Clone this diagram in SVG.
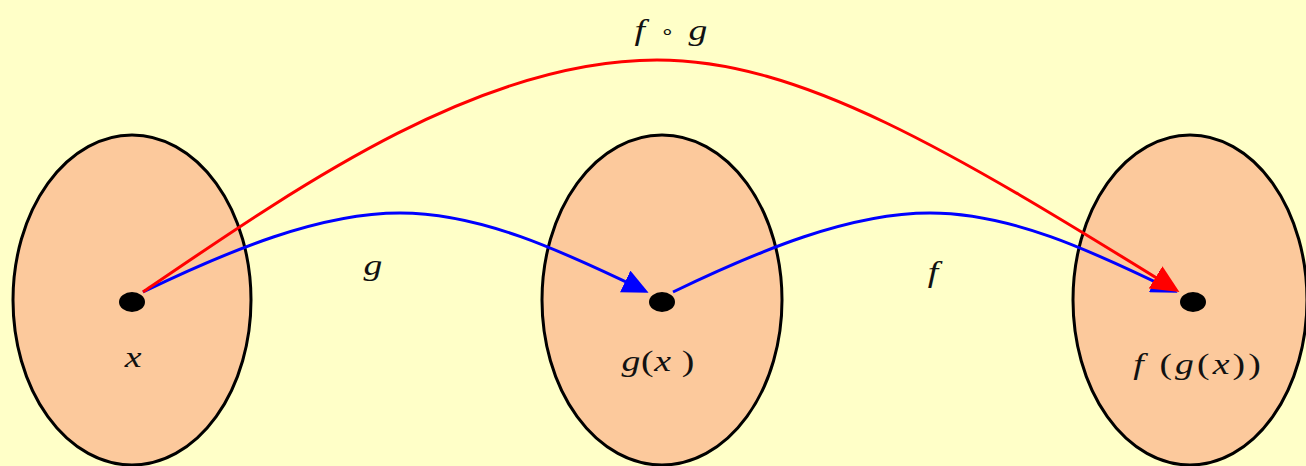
<svg xmlns="http://www.w3.org/2000/svg" width="1306" height="466" viewBox="0 0 1306 466">
<style>
.set{fill:#FCC99C;stroke:#000;stroke-width:3}
.dot{fill:#000}
.lbl{font-family:"Liberation Serif",serif;font-size:29px;font-style:italic;fill:#111;text-anchor:middle}
.up{font-style:normal}
.blue{fill:none;stroke:#0000FF;stroke-width:3}
.red{fill:none;stroke:#FF0000;stroke-width:3}
</style>
<defs>
<marker id="ab" markerUnits="userSpaceOnUse" markerWidth="26" markerHeight="24" refX="22" refY="12" orient="auto"><path d="M0,0 L26,12 L0,24 z" fill="#0000FF"/></marker>
<marker id="ar" markerUnits="userSpaceOnUse" markerWidth="28" markerHeight="26" refX="24" refY="13" orient="auto"><path d="M0,0 L28,13 L0,26 z" fill="#FF0000"/></marker>
</defs>
<rect width="1306" height="466" fill="#FFFFC8"/>
<g id="setX">
<ellipse class="set" cx="132" cy="300" rx="119" ry="165"/>
<ellipse class="dot" cx="132" cy="302" rx="13" ry="10"/>
<text class="lbl" transform="matrix(1.3 0 0 1 133 367)">x</text>
</g>
<g id="setG">
<ellipse class="set" cx="662" cy="300" rx="120" ry="165"/>
<ellipse class="dot" cx="662" cy="302" rx="13" ry="10"/>
<text class="lbl" transform="matrix(1.3 0 0 1 658 371)" textLength="56" lengthAdjust="spacing">g<tspan class="up">(</tspan>x<tspan class="up"> )</tspan></text>
</g>
<g id="setF">
<ellipse class="set" cx="1190" cy="300" rx="117" ry="165"/>
<ellipse class="dot" cx="1193" cy="302" rx="13" ry="10"/>
<text class="lbl" transform="matrix(1.3 0 0 1 1197 374)" textLength="98" lengthAdjust="spacing">f <tspan class="up">(</tspan>g<tspan class="up">(</tspan>x<tspan class="up">))</tspan></text>
</g>
<g id="connectors">
<path class="blue" d="M143,292 C230,250 320,213 400,213 C480,213 560,250 645,291" marker-end="url(#ab)"/>
<path class="blue" d="M673,292 C760,250 850,213 930,213 C1010,213 1090,250 1174,291" marker-end="url(#ab)"/>
<path class="red" d="M143,292 C300,185 480,60 657,60 C800,60 950,150 1176,290" marker-end="url(#ar)"/>
<text class="lbl" transform="matrix(1.3 0 0 1 373 275)">g</text>
<text class="lbl" transform="matrix(1.3 0 0 1 933 282)">f</text>
<text class="lbl" transform="matrix(1.3 0 0 1 671 40)" textLength="56" lengthAdjust="spacing">f <tspan class="up" font-size="18" dy="-3">∘</tspan><tspan dy="3"> g</tspan></text>
</g>
</svg>
